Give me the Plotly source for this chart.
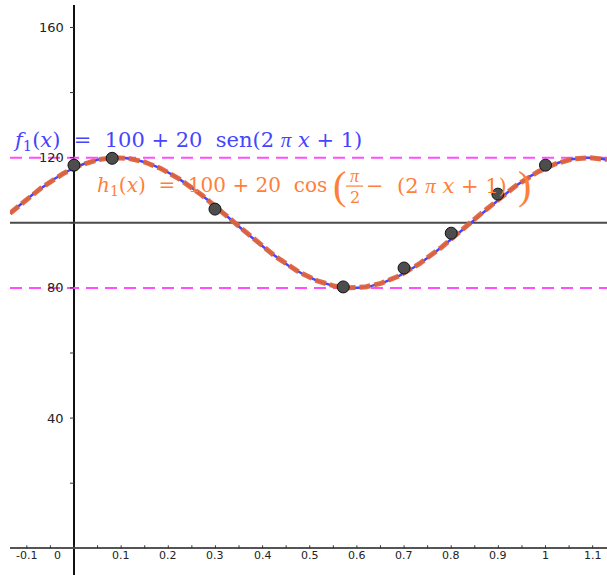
import numpy as np
import plotly.graph_objects as go

# ---- data ----
point_x = [0.0, 0.081, 0.299, 0.571, 0.700, 0.800, 0.899, 1.0]
point_y = [117.7, 119.8, 104.2, 80.3, 86.1, 96.8, 108.8, 117.7]

# function parameters shown in the labels: 100 + 20 sen(2 pi x + 1)
f_offset = 100
f_amp = 20
f_phase = 1

upper_level = 120
lower_level = 80
mid_level = 100

x_tick_vals = [-0.1, 0.0, 0.1, 0.2, 0.3, 0.4, 0.5, 0.6, 0.7, 0.8, 0.9, 1.0, 1.1]
x_tick_text = ["-0.1", "0", "0.1", "0.2", "0.3", "0.4", "0.5", "0.6", "0.7", "0.8", "0.9", "1", "1.1"]
x_minor_vals = [-0.05, 0.05, 0.15, 0.25, 0.35, 0.45, 0.55, 0.65, 0.75, 0.85, 0.95, 1.05]
y_tick_vals = [40, 80, 120, 160]
y_tick_text = ["40", "80", "120", "160"]
y_minor_vals = [20, 60, 100, 140]

# ---- view ----
X_RANGE = [-0.1357, 1.1304]
Y_RANGE = [-8.2, 166.9]
W, H = 607, 575
ML, MT = 10, 5


def px2x(px):
    return (px - 74) / 471.5


def py2y(py):
    return (548.3 - py) / 3.256


xs = np.linspace(X_RANGE[0], X_RANGE[1], 500)
ys = f_offset + f_amp * np.sin(2 * np.pi * xs + f_phase)
hs = f_offset + f_amp * np.cos(np.pi / 2 - (2 * np.pi * xs + f_phase))

BLUE = "#4545ff"
ORANGE_LINE = "#e0643c"
ORANGE_TEXT = "#ff7f3a"
MAGENTA = "#ff4dff"

fig = go.Figure()

# horizontal reference lines
for lvl, col, dash in [(upper_level, MAGENTA, "12px,7px"), (lower_level, MAGENTA, "12px,7px"),
                       (mid_level, "#4a4a4a", "solid")]:
    fig.add_trace(go.Scatter(x=[X_RANGE[0], X_RANGE[1]], y=[lvl, lvl], mode="lines",
                             line=dict(color=col, width=2, dash=dash), hoverinfo="skip"))

fig.add_trace(go.Scatter(x=xs, y=ys, mode="lines", line=dict(color=BLUE, width=2.5),
                         hoverinfo="skip"))
fig.add_trace(go.Scatter(x=xs, y=hs, mode="lines",
                         line=dict(color=ORANGE_LINE, width=5, dash="11px,4px"),
                         opacity=0.95, hoverinfo="skip"))
fig.add_trace(go.Scatter(x=point_x, y=point_y, mode="markers",
                         marker=dict(size=12, color="#4d4d4d",
                                     line=dict(color="#111111", width=1)),
                         hoverinfo="skip"))

shapes = []
for v in x_tick_vals + x_minor_vals:
    shapes.append(dict(type="line", xref="x", yref="y", x0=v, x1=v, ysizemode="pixel",
                       yanchor=0, y0=0, y1=3, line=dict(color="#333", width=1)))
for v in y_tick_vals + y_minor_vals:
    shapes.append(dict(type="line", xref="x", yref="y", y0=v, y1=v, xsizemode="pixel",
                       xanchor=0, x0=-4, x1=0, line=dict(color="#333", width=1)))

# fraction bar for pi/2
shapes.append(dict(type="line", xref="x", yref="y", x0=px2x(346), x1=px2x(363),
                   y0=py2y(186), y1=py2y(186), line=dict(color=ORANGE_TEXT, width=1.2)))

annotations = []
for v, t in zip(x_tick_vals, x_tick_text):
    shift = -16 if t == "0" else 0
    annotations.append(dict(x=v, y=0, xref="x", yref="y", text=t, showarrow=False,
                            xanchor="center", yanchor="middle", yshift=-7, xshift=shift,
                            font=dict(family="DejaVu Sans", size=11, color="#222")))
for v, t in zip(y_tick_vals, y_tick_text):
    annotations.append(dict(x=0, y=v, xref="x", yref="y", text=t, showarrow=False,
                            xanchor="right", yanchor="middle", xshift=-8,
                            font=dict(family="DejaVu Sans", size=13, color="#222")))

SERIF = "DejaVu Serif"
sp = "&nbsp;"
PI = '<span style="font-family:Liberation Serif;font-style:italic">π</span>'
annotations.append(dict(
    x=px2x(11), y=py2y(141), xref="x", yref="y", showarrow=False, xanchor="left",
    yanchor="middle",
    text=f"<i>f</i><sub>1</sub>(<i>x</i>){sp}{sp}={sp}{sp}100{sp}+{sp}20{sp}{sp}sen(2{sp}{PI}{sp}<i>x</i>{sp}+{sp}1)",
    font=dict(family=SERIF, size=21, color=BLUE)))
annotations.append(dict(
    x=px2x(95), y=py2y(186), xref="x", yref="y", showarrow=False, xanchor="left",
    yanchor="middle",
    text=f"<i>h</i><sub>1</sub>(<i>x</i>){sp}{sp}={sp}{sp}100{sp}+{sp}20{sp}{sp}cos",
    font=dict(family=SERIF, size=20, color=ORANGE_TEXT)))
annotations.append(dict(x=px2x(331), y=py2y(185), xref="x", yref="y", showarrow=False,
                        xanchor="left", yanchor="middle", text="(",
                        font=dict(family="Liberation Serif", size=40, color=ORANGE_TEXT)))
annotations.append(dict(x=px2x(354.5), y=py2y(176), xref="x", yref="y", showarrow=False,
                        xanchor="center", yanchor="middle", text=PI,
                        font=dict(family=SERIF, size=18, color=ORANGE_TEXT)))
annotations.append(dict(x=px2x(354.5), y=py2y(197), xref="x", yref="y", showarrow=False,
                        xanchor="center", yanchor="middle", text="2",
                        font=dict(family=SERIF, size=16, color=ORANGE_TEXT)))
annotations.append(dict(
    x=px2x(364), y=py2y(186), xref="x", yref="y", showarrow=False, xanchor="left",
    yanchor="middle",
    text=f"−{sp}{sp}(2{sp}{PI}{sp}<i>x</i>{sp}+{sp}1)",
    font=dict(family=SERIF, size=21, color=ORANGE_TEXT)))
annotations.append(dict(x=px2x(516), y=py2y(185), xref="x", yref="y", showarrow=False,
                        xanchor="left", yanchor="middle", text=")",
                        font=dict(family="Liberation Serif", size=40, color=ORANGE_TEXT)))

fig.update_layout(
    width=W, height=H,
    margin=dict(l=ML, r=0, t=MT, b=0, pad=0),
    paper_bgcolor="white", plot_bgcolor="white",
    showlegend=False,
    xaxis=dict(range=X_RANGE, showgrid=False, showticklabels=False, ticks="",
               zeroline=True, zerolinecolor="#111", zerolinewidth=1.5, fixedrange=True),
    yaxis=dict(range=Y_RANGE, showgrid=False, showticklabels=False, ticks="",
               zeroline=True, zerolinecolor="#555", zerolinewidth=1.5, fixedrange=True),
    shapes=shapes, annotations=annotations,
)

fig.write_html("out.html", config={"displayModeBar": False},
               post_script="document.body.style.margin='0';")
